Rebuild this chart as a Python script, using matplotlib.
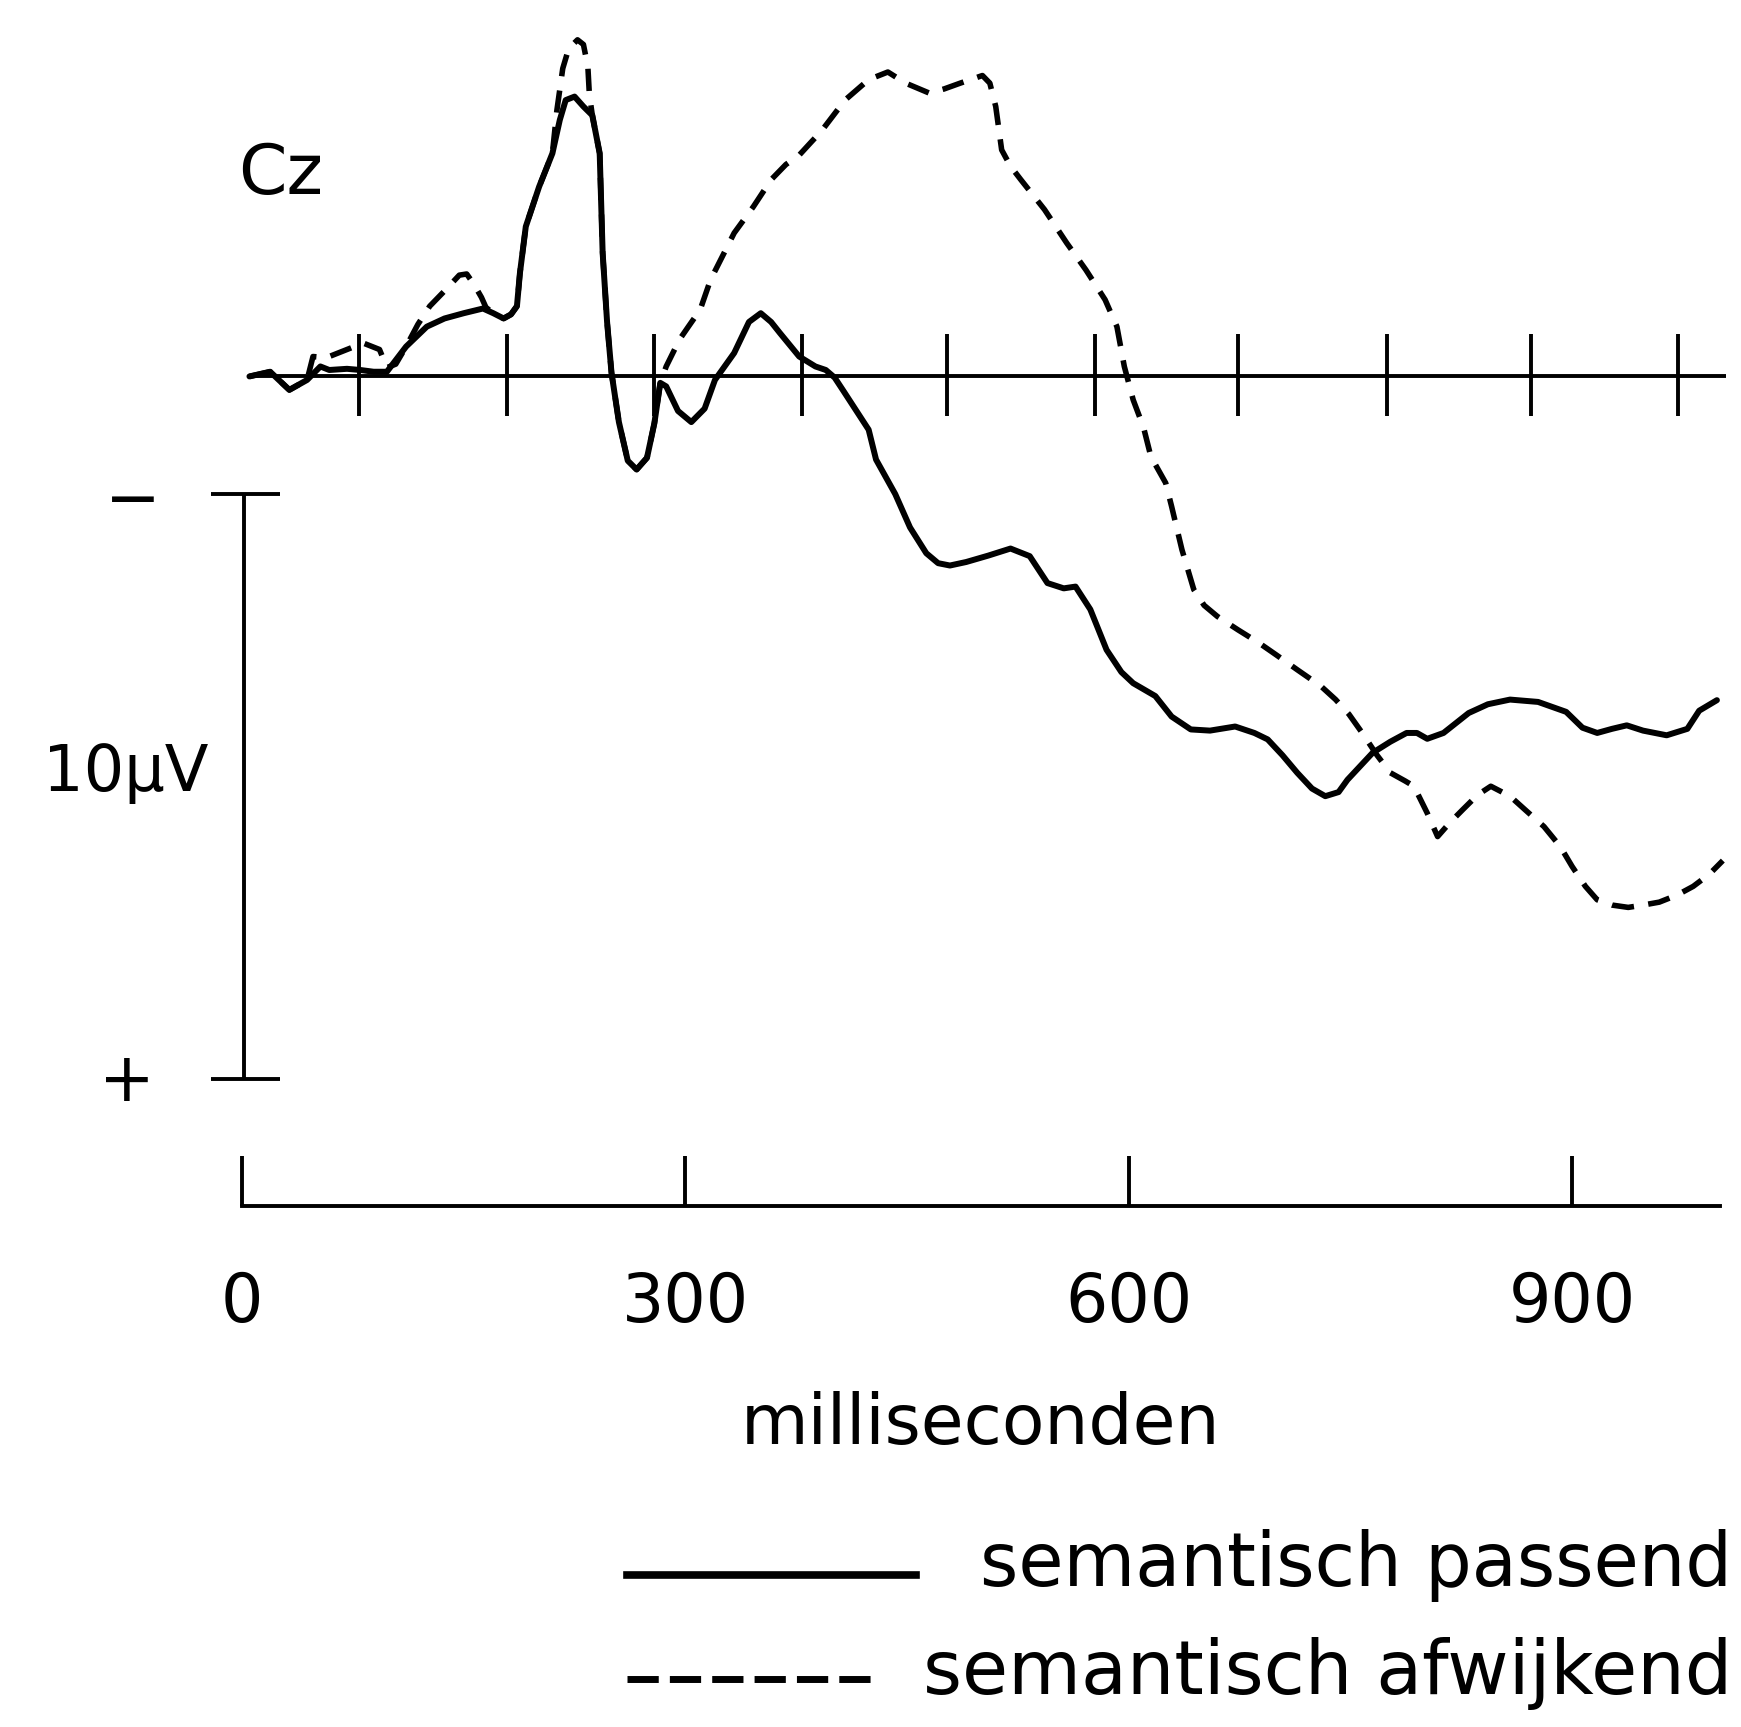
import matplotlib.pyplot as plt
from matplotlib.lines import Line2D

# Cz, tijd in ms, amplitude in microvolt (negatief naar boven)
t_passend = [5, 19, 32, 44, 53, 59, 71, 80, 89, 98, 111, 125, 137, 150, 163, 170, 177, 182,
             186, 188, 192, 201, 210, 215, 219, 225, 231, 237, 242, 244, 247, 250, 255, 261,
             267, 274, 279, 283, 287, 295, 304, 313, 320, 333, 343, 351, 358, 364, 377, 388,
             395, 401, 407, 424, 429, 442, 452, 463, 471, 479, 490, 505, 520, 533, 545, 556,
             564, 574, 585, 595, 603, 618, 629, 642, 655, 672, 685, 694, 704, 714, 724, 733,
             742, 748, 765, 777, 788, 795, 802, 813, 830, 843, 858, 877, 896, 907, 917, 927,
             937, 948, 964, 978, 986, 998]
v_passend = [0.0, -0.08, 0.23, 0.06, -0.17, -0.11, -0.13, -0.11, -0.08, -0.08, -0.51, -0.85,
             -0.99, -1.08, -1.16, -1.08, -0.99, -1.06, -1.20, -1.76, -2.56, -3.24, -3.81, -4.38,
             -4.72, -4.78, -4.61, -4.46, -3.81, -2.11, -0.93, -0.06, 0.78, 1.44, 1.59, 1.39,
             0.80, 0.11, 0.17, 0.59, 0.78, 0.55, 0.06, -0.40, -0.93, -1.08, -0.93, -0.74, -0.34,
             -0.17, -0.11, 0.02, 0.25, 0.91, 1.42, 2.01, 2.58, 3.02, 3.19, 3.23, 3.17, 3.06,
             2.94, 3.07, 3.53, 3.62, 3.59, 3.98, 4.67, 5.05, 5.24, 5.46, 5.81, 6.03, 6.05, 5.98,
             6.09, 6.20, 6.47, 6.77, 7.04, 7.17, 7.10, 6.89, 6.43, 6.24, 6.09, 6.09, 6.19, 6.09,
             5.75, 5.60, 5.52, 5.56, 5.73, 6.00, 6.09, 6.02, 5.96, 6.05, 6.13, 6.02, 5.71, 5.53]

t_afwijkend = [5, 19, 32, 44, 48, 57, 71, 82, 93, 98, 104, 111, 119, 127, 137, 147, 152, 157,
               162, 165, 170, 177, 182, 186, 188, 192, 201, 210, 213, 217, 221, 227, 231, 234,
               235, 237, 242, 244, 247, 250, 255, 261, 267, 274, 279, 283, 287, 296, 302, 310,
               317, 333, 346, 358, 368, 377, 385, 392, 408, 424, 437, 449, 465, 475, 486, 501,
               506, 510, 514, 520, 527, 543, 558, 571, 584, 592, 597, 603, 610, 615, 625, 629,
               636, 644, 651, 660, 674, 688, 700, 714, 730, 740, 749, 758, 768, 777, 787, 793,
               802, 809, 817, 826, 836, 845, 858, 869, 881, 892, 900, 909, 917, 927, 938, 948,
               959, 971, 982, 993, 1002]
v_afwijkend = [0.0, -0.08, 0.23, 0.06, -0.34, -0.32, -0.46, -0.57, -0.46, -0.15, -0.21, -0.51,
               -0.89, -1.20, -1.46, -1.73, -1.75, -1.57, -1.35, -1.18, -1.08, -0.99, -1.06,
               -1.20, -1.76, -2.56, -3.24, -3.81, -4.54, -5.26, -5.60, -5.75, -5.67, -5.29,
               -4.82, -4.46, -3.81, -2.11, -0.93, -0.06, 0.78, 1.44, 1.59, 1.39, 0.80, 0.11,
               -0.17, -0.63, -0.85, -1.14, -1.65, -2.45, -2.90, -3.36, -3.62, -3.78, -4.00,
               -4.19, -4.72, -5.07, -5.20, -5.01, -4.84, -4.91, -5.01, -5.14, -5.01, -4.61,
               -3.87, -3.59, -3.36, -2.85, -2.28, -1.82, -1.31, -0.85, -0.17, 0.40, 0.87, 1.37,
               1.82, 2.22, 2.96, 3.64, 3.91, 4.10, 4.33, 4.55, 4.76, 5.01, 5.29, 5.52, 5.77,
               6.09, 6.47, 6.77, 6.91, 7.00, 7.46, 7.86, 7.63, 7.40, 7.15, 7.00, 7.17, 7.42,
               7.69, 8.03, 8.37, 8.71, 8.94, 9.03, 9.07, 9.03, 8.98, 8.86, 8.71, 8.50, 8.27]

trace_ticks = [79, 179, 279, 379, 477, 577, 674, 775, 872, 972]
time_ticks = [0, 300, 600, 900]
scale_top = 2.0      # microvolt
scale_len = 10.0     # microvolt

fig = plt.figure(figsize=(17.41, 17.27), dpi=100)
ax = fig.add_axes([0, 0, 1, 1])
ax.set_xlim(-163.8, 1014.3)
ax.set_ylim(23.07, -6.43)

# golfvormen
ax.plot(t_afwijkend, v_afwijkend, color='black', lw=4.0, linestyle=(0, (4.0, 2.6)))
ax.plot(t_passend, v_passend, color='black', lw=4.3,
        solid_joinstyle='round', solid_capstyle='round')

# nullijn met tijdstreepjes
ax.hlines(0, 5, 1004, color='black', lw=2.8)
ax.vlines(trace_ticks, -0.72, 0.68, color='black', lw=2.8)

# schaalbalk 10 uV
ax.vlines(1.5, scale_top, scale_top + scale_len, color='black', lw=2.8)
ax.hlines([scale_top, scale_top + scale_len], -21, 25.5, color='black', lw=2.8)
ax.text(-74, scale_top + 0.12, '\u2212', ha='center', va='center', fontsize=48)
ax.text(-78, scale_top + scale_len + 0.05, '+', ha='center', va='center', fontsize=48)
ax.text(-79, 7.08, '10\u00b5V', ha='center', va='baseline', fontsize=46)
ax.text(26, -3.11, 'Cz', ha='center', va='baseline', fontsize=50)

# tijdas
for side in ['top', 'right', 'left']:
    ax.spines[side].set_visible(False)
ax.spines['bottom'].set_position(('data', 14.17))
ax.spines['bottom'].set_bounds(0, 1000)
ax.spines['bottom'].set_linewidth(2.8)
ax.set_xticks(time_ticks)
ax.set_yticks([])
ax.tick_params(axis='x', direction='in', length=36, width=2.8, pad=46, labelsize=48)
ax.text(500, 18.24, 'milliseconden', ha='center', va='baseline', fontsize=50)

# legenda
fig.add_artist(Line2D([0.3603, 0.5261], [0.0881, 0.0881], color='black', lw=5.5))
fig.add_artist(Line2D([0.3603, 0.5038], [0.0277, 0.0277], color='black', lw=5.0,
                      linestyle=(0, (4.5, 1.6))))
fig.text(0.9949, 0.0817, 'semantisch passend', ha='right', va='baseline', fontsize=53)
fig.text(0.9949, 0.0193, 'semantisch afwijkend', ha='right', va='baseline', fontsize=54)

plt.savefig('out.png', dpi=100)
